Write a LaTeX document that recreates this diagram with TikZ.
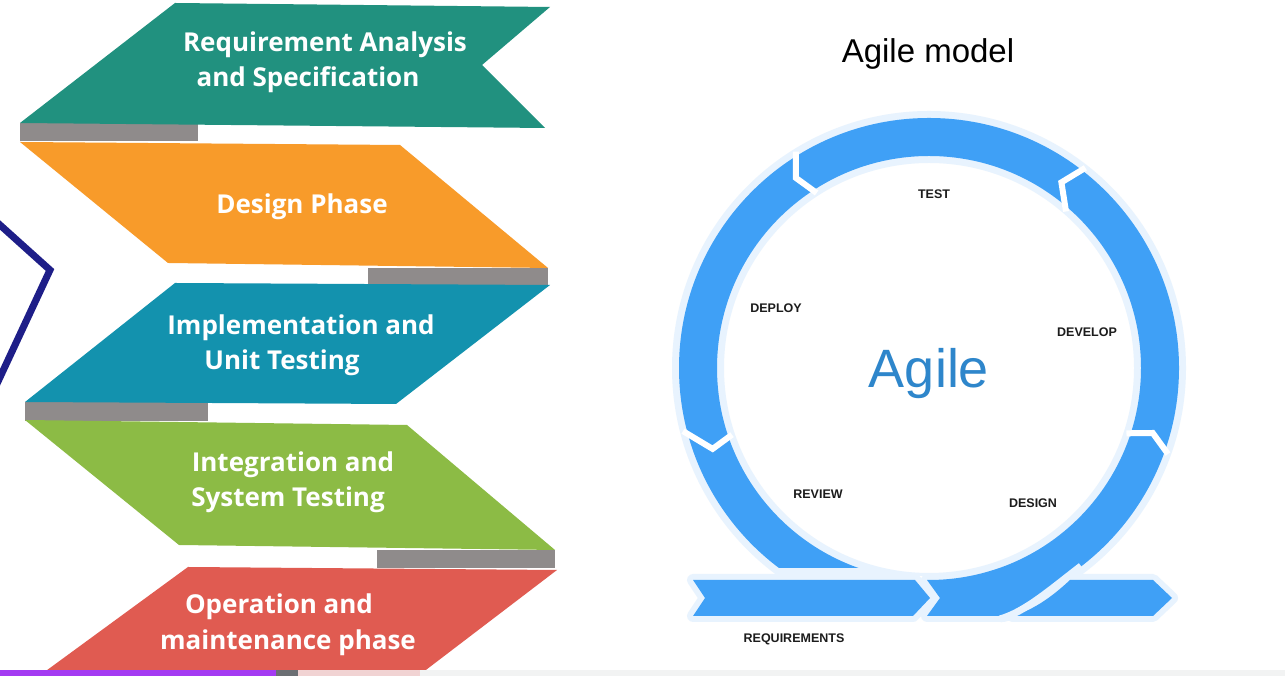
\documentclass[tikz,border=0pt]{standalone}
\usepackage{fontspec}
\setmainfont{Liberation Sans}
\newfontfamily\bannerfont{Open Sans}
\usetikzlibrary{calc}
\definecolor{tealA}{HTML}{21917F}
\definecolor{orangeB}{HTML}{F89B2A}
\definecolor{blueC}{HTML}{1392AE}
\definecolor{greenD}{HTML}{8CBB45}
\definecolor{redE}{HTML}{E05B51}
\definecolor{fold}{HTML}{8F8B8B}
\definecolor{navy}{HTML}{1E1E88}
\definecolor{ringblue}{HTML}{3FA0F6}
\definecolor{halo}{HTML}{E8F3FE}
\definecolor{agileblue}{HTML}{2E86CB}
\definecolor{labelgray}{HTML}{1C1C1C}
\definecolor{purplebar}{HTML}{A43BF2}
\definecolor{darkbar}{HTML}{6B6F73}
\definecolor{pinkbar}{HTML}{F1D3D3}
\definecolor{stripgray}{HTML}{F2F3F3}
\tikzset{
  bantext/.style={text=white, inner sep=0pt, anchor=base, font=\bannerfont\bfseries\fontsize{26}{30}\selectfont},
  steplabel/.style={text=labelgray, inner sep=0pt, font=\bfseries\fontsize{12.5}{15}\selectfont},
  gapline/.style={white, line width=6pt, line join=miter},
  halostroke/.style={halo, line width=12pt, line join=round}
}
\newcommand\pathbarA{(693,96) -- (915,96) -- (930,78) -- (913,60) -- (693,60) -- (705,78) -- cycle}
\newcommand\pathbarC{(1070,96) -- (1153,96) -- (1172,78) -- (1153,60) -- (1012,60) .. controls (1035,66) and (1055,82) .. (1070,96) -- cycle}
\newcommand\pathdesign{(927,96) -- (929,96) arc[start angle=-90, end angle=-70.67, radius=212] -- (1079,108) .. controls (1051,87) and (1025,64) .. (1003,60) -- (927,60) -- (940,78) -- cycle}
\begin{document}
\begin{tikzpicture}[x=1pt,y=1pt]
\useasboundingbox (0,0) rectangle (1285,676);
\fill[white] (0,0) rectangle (1285,676);

% ---------------- left: waterfall banners ----------------
\fill[fold] (20,535) rectangle (198,553);
\fill[fold] (368,389) rectangle (548,408);
\fill[fold] (25,255) rectangle (208,274);
\fill[fold] (377,108) rectangle (555,126);
\fill[tealA] (175,673) -- (550,669) -- (482,611) -- (545,548) -- (20,553) -- cycle;
\fill[orangeB] (20,534) -- (400,531) -- (548,408) -- (168,413) -- cycle;
\fill[blueC] (175,393) -- (550,391) -- (396,272) -- (25,274) -- cycle;
\fill[greenD] (25,256) -- (407,251) -- (555,126) -- (179,131) -- cycle;
\fill[redE] (188,109) -- (557,106) -- (418,0) -- (39,0) -- cycle;

\draw[navy, line width=7pt, line join=miter] (-5,455.5) -- (50,406) -- (-5,288);

\node[bantext] (t1a) at (325,624) {Requirement Analysis};
\node[bantext] (t1b) at (308,589) {and Specification};
\node[bantext] (t2)  at (302,462) {Design Phase};
\node[bantext] (t3a) at (301,341) {Implementation and};
\node[bantext] (t3b) at (282,306) {Unit Testing};
\node[bantext] (t4a) at (293,204) {Integration and};
\node[bantext] (t4b) at (288,169) {System Testing};
\node[bantext] (t5a) at (279,62)  {Operation and};
\node[bantext] (t5b) at (288,26)  {maintenance phase};

% bottom strip
\fill[stripgray] (0,0) rectangle (1285,5.5);
\fill[pinkbar] (298,0) rectangle (420,5.5);
\fill[purplebar] (0,0) rectangle (276,5.5);
\fill[darkbar] (276,0) rectangle (298,5.5);

% ---------------- right: agile model ----------------
\coordinate (C) at (929,308);
\node[inner sep=0pt, anchor=base, font=\fontsize{33}{38}\selectfont] (title) at (928,613) {Agile model};

% halo
\begin{scope}
  \clip (600,100) rectangle (1260,620);
  \fill[halo, even odd rule] (C) circle[radius=257] (C) circle[radius=205];
\end{scope}
\draw[halostroke] \pathbarA;
\draw[halostroke] \pathbarC;
\draw[halostroke] \pathdesign;

% ring
\begin{scope}
  \clip (600,108) rectangle (1260,620);
  \fill[ringblue, even odd rule] (C) circle[radius=250] (C) circle[radius=212];
\end{scope}
\fill[ringblue] \pathbarA;
\fill[ringblue] \pathbarC;
\fill[ringblue] \pathdesign;
\draw[halo, line width=7pt] (1081,110) .. controls (1051,87) and (1025,64) .. (1000,57);

% chevron gaps
\draw[gapline] ($(C)+(121.6:254)$) -- ($(C)+(125:232)$) -- ($(C)+(122.7:208)$);
\draw[gapline] ($(C)+(52:254)$) -- ($(C)+(54.5:228)$) -- ($(C)+(48.8:208)$);
\draw[gapline] ($(C)+(-19.8:254)$) -- ($(C)+(-16.2:233)$) -- ($(C)+(-18.3:208)$);
\draw[gapline] ($(C)+(194.4:254)$) -- ($(C)+(200.5:231)$) -- ($(C)+(198.7:208)$);

% labels
\node[inner sep=0pt, anchor=base, text=agileblue, font=\fontsize{54}{60}\selectfont] (agile) at (929,288) {Agile};
\node[steplabel] (test) at (934,482) {TEST};
\node[steplabel] (deploy) at (776,368) {DEPLOY};
\node[steplabel] (develop) at (1087,344) {DEVELOP};
\node[steplabel] (review) at (818,182) {REVIEW};
\node[steplabel] (design) at (1033,173) {DESIGN};
\node[steplabel] (req) at (794,37) {REQUIREMENTS};
\end{tikzpicture}
\end{document}
